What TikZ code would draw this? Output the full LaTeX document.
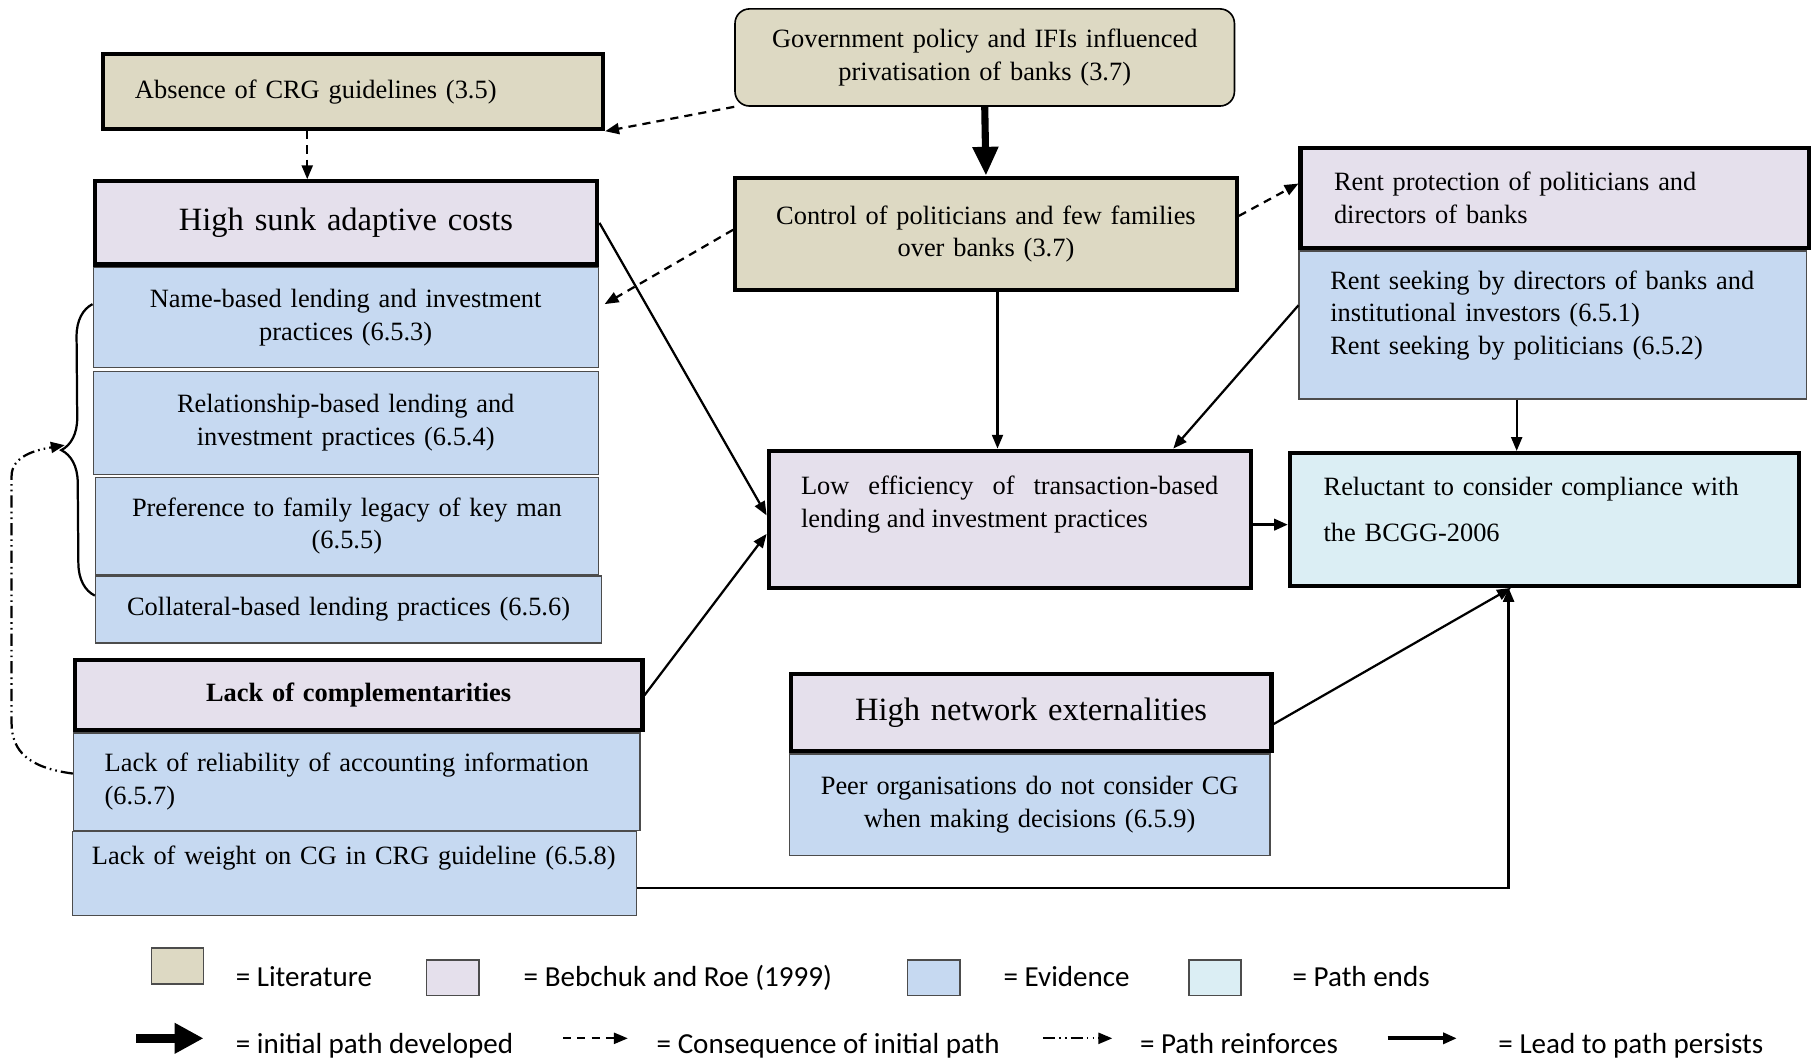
\documentclass[tikz,border=0pt]{standalone}
\usepackage{fontspec}
\setmainfont{Liberation Serif}
\newfontfamily\legendfont{Carlito}
\usetikzlibrary{positioning,arrows.meta,calc,decorations.pathreplacing}
\definecolor{litfill}{RGB}{221,217,195}
\definecolor{bebfill}{RGB}{229,224,236}
\definecolor{evifill}{RGB}{198,217,241}
\definecolor{endfill}{RGB}{219,238,244}
\tikzset{
  >={Triangle[length=0.24cm,width=0.19cm]},
  font       = \fontsize{13}{16}\selectfont,
  base/.style={
    rectangle,
    anchor     = north west,
    inner xsep = 0.2cm,
    inner ysep = 0pt,
    align      = center},
  lit/.style ={base, draw=black,   fill=litfill, line width=2pt},
  beb/.style ={base, draw=black,   fill=bebfill, line width=2pt},
  evi/.style ={base, draw=black!70, fill=evifill, line width=0.6pt},
  pend/.style={base, draw=black,   fill=endfill, line width=2pt},
  head/.style={font=\fontsize{16}{19}\selectfont},
  persist/.style  ={->},
  cons/.style     ={->, dash pattern=on 4pt off 3pt},
  reinforce/.style={->, dash pattern=on 6pt off 2pt on 0.8pt off 2pt on 0.8pt off 2pt},
  initial/.style  ={line width=3.5pt, -{Triangle[length=0.5cm,width=0.42cm]}},
  legbox/.style={
    draw           = black!70,
    line width     = 0.8pt,
    minimum width  = 0.9cm,
    minimum height = 0.62cm},
  legtext/.style={anchor=base west, inner xsep=0pt,
    font=\legendfont\fontsize{14.3}{17}\selectfont}
}

\begin{document}
\begin{tikzpicture}[x=0.02cm, y=-0.02cm, line width=1.1pt]
\useasboundingbox (0,0) rectangle (1568,916);

% literature
\node[lit, inner xsep=0.56cm, text width=7.54cm, minimum width=8.66cm,
      minimum height=1.30cm, align=left] (absence) at (87,45)
  {Absence of CRG guidelines (3.5)};
\node[lit, line width=0.8pt, rounded corners=0.25cm, text width=8.24cm,
      minimum height=1.68cm] (gov) at (635,7)
  {Government policy and IFIs influenced\\privatisation of banks (3.7)};
\node[lit, text width=8.28cm, minimum height=1.94cm] (ctrl) at (634,152)
  {Control of politicians and few families\\over banks (3.7)};

% high sunk adaptive costs
\node[beb, head, text width=8.30cm, minimum height=1.44cm] (hsunk) at (80,155)
  {High sunk adaptive costs};
\node[evi, text width=8.34cm, minimum height=1.74cm,
      below=0pt of hsunk.south west, anchor=north west] (name)
  {Name-based lending and investment\\practices (6.5.3)};
\node[evi, text width=8.34cm, minimum height=1.78cm,
      below=0.04cm of name.south west, anchor=north west] (rel)
  {Relationship-based lending and\\investment practices (6.5.4)};
\node[evi, text width=8.30cm, minimum height=1.68cm,
      below=0.04cm of rel.south west, anchor=north west, xshift=0.04cm] (pref)
  {Preference to family legacy of key man\\(6.5.5)};
\node[evi, text width=8.36cm, minimum height=1.16cm,
      below=0pt of pref.south west, anchor=north west] (coll)
  {Collateral-based lending practices (6.5.6)};

% lack of complementarities
\node[beb, text width=9.42cm, minimum height=1.22cm,
      font=\fontsize{13}{16}\selectfont\bfseries] (lackcomp)
  at (63,569) {Lack of complementarities};
\node[evi, inner xsep=0.54cm, text width=8.72cm, minimum height=1.68cm,
      align=left, below=0pt of lackcomp.south west, anchor=north west] (lackrel)
  {Lack of reliability of accounting information\\(6.5.7)};
\node[evi, inner xsep=0.34cm, text width=9.08cm, minimum height=1.46cm,
      text depth=0.64cm, align=left, below=0pt of lackrel.south west,
      anchor=north west, xshift=-0.02cm] (lweight)
  {Lack of weight on CG in CRG guideline (6.5.8)};

% rent
\node[beb, inner xsep=0.58cm, text width=7.64cm, minimum height=1.74cm,
      align=left] (rentprot) at (1123,126)
  {Rent protection of politicians and\\directors of banks};
\node[evi, inner xsep=0.54cm, text width=7.70cm, minimum height=2.56cm,
      text depth=1.55cm, align=left,
      below=0pt of rentprot.south west, anchor=north west] (rentseek)
  {Rent seeking by directors of banks and\\institutional investors (6.5.1)\\Rent seeking by politicians (6.5.2)};

% middle and end
\node[beb, inner xsep=0.56cm, text width=7.22cm, minimum height=2.38cm,
      text depth=1.17cm, align=justify] (loweff) at (663,388)
  {Low efficiency of transaction-based lending and investment practices};
\node[pend, inner xsep=0.58cm, text width=7.64cm, minimum height=2.30cm,
      text depth=1.14cm, align=left, font=\fontsize{13}{22.8}\selectfont] (reluct)
  at (1114,390)
  {Reluctant to consider compliance with\\the BCGG-2006};

\node[beb, head, text width=7.92cm, minimum height=1.34cm] (hnet) at (682,581)
  {High network externalities};
\node[evi, text width=7.92cm, minimum height=1.76cm,
      below=0pt of hnet.south west, anchor=north west] (peer)
  {Peer organisations do not consider CG\\when making decisions (6.5.9)};

% connectors
\draw[initial] (gov.south) -- (ctrl.north);
\draw[cons] (gov.south west) -- (absence.south east);
\draw[cons] ([xshift=-0.79cm]absence.south)
  -- ([xshift=-0.79cm]absence.south |- hsunk.north);
\draw[cons] ([yshift=0.07cm]ctrl.west) -- ([xshift=0.1cm,yshift=0.23cm]name.east);
\draw[cons] ([yshift=0.31cm]ctrl.east) -- ([yshift=0.25cm]rentprot.west);

\draw[persist] (hsunk.east) -- ([yshift=0.07cm]loweff.west);
\draw[persist] (lackcomp.east) -- ([yshift=-0.25cm]loweff.west);
\draw[persist] ([xshift=0.2cm]ctrl.south) -- ([xshift=0.2cm]ctrl.south |- loweff.north);
\draw[persist] ([yshift=0.34cm]rentseek.west) -- ([xshift=2.83cm]loweff.north);
\draw[persist] ([xshift=-0.48cm]reluct.north |- rentseek.south)
  -- ([xshift=-0.48cm]reluct.north);
\draw[persist, line width=1.8pt] ([yshift=-0.09cm]loweff.east)
  -- ([yshift=-0.09cm]loweff.east -| reluct.west);
\draw[persist] ([yshift=-0.2cm]hnet.east) -- ([xshift=-0.58cm]reluct.south);
\draw[persist] ([yshift=-0.25cm]lweight.east) -| ([xshift=-0.62cm]reluct.south);

% brace and loop back
\draw[decorate, decoration={brace, amplitude=0.56cm}]
  ([yshift=0.24cm]coll.west) -- ([yshift=0.23cm]name.west);
\coordinate (bracetip) at (56,385);
\draw[reinforce] ([yshift=0.14cm]lackrel.west)
  .. controls (25,664) and (10,650) .. (10,625)
  -- (10,412)
  .. controls (10,394) and (32,389) .. (bracetip);

% legend
\node[legbox, fill=litfill] (kLit) at (153.5,835.5) {};
\node[legtext] (tLit) at (203,853) {= Literature};
\node[legbox, fill=bebfill] (kBeb) at (391.5,845.5) {};
\node[legtext] (tBeb) at (452,853) {= Bebchuk and Roe (1999)};
\node[legbox, fill=evifill] (kEvi) at (807.5,845.5) {};
\node[legtext] (tEvi) at (867,853) {= Evidence};
\node[legbox, fill=endfill] (kEnd) at (1051,845.5) {};
\node[legtext] (tEnd) at (1117,853) {= Path ends};

\coordinate (aIa) at (118,898);  \coordinate (aIb) at (176,898);
\coordinate (aCa) at (487,898);  \coordinate (aCb) at (543,898);
\coordinate (aRa) at (902,898);  \coordinate (aRb) at (962,898);
\coordinate (aPa) at (1200,898); \coordinate (aPb) at (1260,898);
\draw[line width=4.5pt, -{Triangle[length=0.5cm,width=0.5cm]}] (aIa) -- (aIb);
\draw[cons] (aCa) -- (aCb);
\draw[reinforce] (aRa) -- (aRb);
\draw[persist, line width=1.8pt] (aPa) -- (aPb);
\node[legtext] (tIni) at (203,911)  {= initial path developed};
\node[legtext] (tCon) at (567,911)  {= Consequence of initial path};
\node[legtext] (tRei) at (985,911)  {= Path reinforces};
\node[legtext] (tPer) at (1295,911) {= Lead to path persists};

\end{tikzpicture}
\end{document}
